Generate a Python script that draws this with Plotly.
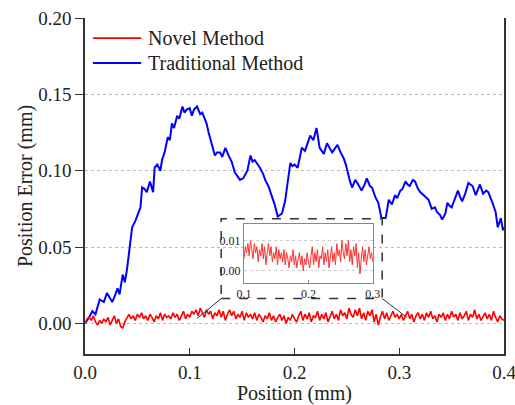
import plotly.graph_objects as go

# ---------------- data ----------------
blue_x = [0.000, 0.004, 0.007, 0.010, 0.014, 0.018, 0.021, 0.024, 0.026, 0.029,
          0.031, 0.033, 0.036, 0.038, 0.040, 0.042, 0.045, 0.048, 0.050, 0.053,
          0.0545, 0.057, 0.059, 0.062, 0.065, 0.0665, 0.069, 0.072, 0.0735, 0.076,
          0.079, 0.081, 0.083, 0.085, 0.088, 0.090, 0.093, 0.095, 0.097, 0.100,
          0.102, 0.104, 0.107, 0.110, 0.112, 0.116, 0.118, 0.121, 0.124, 0.126,
          0.129, 0.131, 0.134, 0.137, 0.140, 0.143, 0.145, 0.148, 0.151, 0.153,
          0.155, 0.158, 0.160, 0.162, 0.165, 0.167, 0.170, 0.172, 0.175, 0.177,
          0.179, 0.181, 0.184, 0.186, 0.188, 0.191, 0.193, 0.196, 0.198, 0.200,
          0.203, 0.207, 0.210, 0.212, 0.215, 0.218, 0.221, 0.224, 0.226, 0.228,
          0.231, 0.234, 0.236, 0.239, 0.241, 0.244, 0.247, 0.249, 0.251, 0.253,
          0.255, 0.258, 0.260, 0.262, 0.264, 0.267, 0.269, 0.272, 0.274, 0.277,
          0.280, 0.283, 0.287, 0.290, 0.293, 0.296, 0.298, 0.301, 0.303, 0.306,
          0.308, 0.310, 0.313, 0.315, 0.318, 0.320, 0.323, 0.325, 0.328, 0.331,
          0.334, 0.336, 0.339, 0.341, 0.344, 0.346, 0.348, 0.350, 0.353, 0.356,
          0.358, 0.360, 0.363, 0.366, 0.368, 0.370, 0.373, 0.375, 0.377, 0.380,
          0.383, 0.385, 0.387, 0.389, 0.392, 0.394, 0.397, 0.399, 0.400]
blue_y = [0.000, 0.004, 0.008, 0.006, 0.0157, 0.014, 0.020, 0.016, 0.014, 0.019,
          0.023, 0.019, 0.032, 0.027, 0.035, 0.046, 0.063, 0.067, 0.071, 0.076,
          0.089, 0.088, 0.086, 0.093, 0.086, 0.102, 0.104, 0.100, 0.107, 0.112,
          0.122, 0.120, 0.131, 0.128, 0.136, 0.134, 0.142, 0.138, 0.140, 0.141,
          0.136, 0.140, 0.142, 0.137, 0.138, 0.131, 0.125, 0.118, 0.110, 0.112,
          0.112, 0.109, 0.115, 0.110, 0.106, 0.099, 0.097, 0.094, 0.095, 0.098,
          0.100, 0.110, 0.106, 0.107, 0.104, 0.102, 0.098, 0.094, 0.090, 0.086,
          0.082, 0.078, 0.070, 0.071, 0.072, 0.080, 0.090, 0.105, 0.103, 0.104,
          0.102, 0.115, 0.113, 0.117, 0.123, 0.120, 0.128, 0.115, 0.113, 0.111,
          0.118, 0.114, 0.112, 0.115, 0.117, 0.112, 0.108, 0.104, 0.098, 0.093,
          0.089, 0.094, 0.092, 0.089, 0.087, 0.091, 0.095, 0.090, 0.089, 0.083,
          0.079, 0.069, 0.069, 0.081, 0.078, 0.084, 0.082, 0.087, 0.088, 0.093,
          0.091, 0.090, 0.094, 0.093, 0.088, 0.086, 0.084, 0.083, 0.081, 0.075,
          0.076, 0.073, 0.071, 0.068, 0.072, 0.079, 0.077, 0.076, 0.081, 0.087,
          0.083, 0.080, 0.085, 0.092, 0.091, 0.090, 0.084, 0.087, 0.091, 0.085,
          0.087, 0.086, 0.083, 0.079, 0.073, 0.063, 0.069, 0.061, 0.063]

red_x = [round(i * 0.002, 3) for i in range(201)]
red_y = [0.000, 0.003, 0.004, 0.002, 0.005, 0.001, -0.001, 0.002, 0.000, 0.003,
         0.001, 0.004, -0.001, 0.002, 0.005, 0.000, 0.003, -0.002, -0.003, 0.001,
         0.004, 0.006, 0.003, 0.005, 0.002, 0.006, 0.004, 0.007, 0.003, 0.005,
         0.002, 0.006, 0.004, 0.001, 0.005, 0.003, 0.007, 0.002, 0.006, 0.004,
         0.005, 0.003, 0.007, 0.004, 0.006, 0.002, 0.005, 0.008, 0.003, 0.006,
         0.004, 0.008, 0.006, 0.009, 0.005, 0.010, 0.007, 0.004, 0.009, 0.006,
         0.008, 0.003, 0.007, 0.005, 0.009, 0.004, 0.008, 0.002, 0.006, 0.009,
         0.005, 0.008, 0.003, 0.006, 0.004, 0.008, 0.002, 0.007, 0.004, 0.006,
         0.003, 0.007, 0.002, 0.006, 0.004, 0.001, 0.005, 0.003, 0.007, 0.002,
         0.005, 0.001, 0.004, 0.006, 0.002, 0.005, 0.000, 0.004, 0.002, 0.006,
         0.003, 0.001, 0.005, 0.008, 0.002, 0.006, 0.003, 0.007, 0.001, 0.005,
         0.004, 0.008, 0.002, 0.006, 0.003, 0.007, 0.001, 0.005, 0.008, 0.003,
         0.006, 0.002, 0.009, 0.005, 0.007, 0.003, 0.010, 0.006, 0.004, 0.009,
         0.005, 0.010, 0.003, 0.007, 0.002, 0.008, 0.005, 0.009, 0.001, 0.006,
         -0.001, 0.004, 0.008, 0.003, 0.007, 0.002, 0.005, 0.008, 0.004, 0.006,
         0.003, 0.006, 0.002, 0.005, 0.008, 0.003, 0.006, 0.001, 0.005, 0.007,
         0.003, 0.006, 0.002, 0.007, 0.004, 0.008, 0.003, 0.005, 0.001, 0.006,
         0.004, 0.007, 0.002, 0.006, 0.003, 0.008, 0.004, 0.006, 0.002, 0.007,
         0.003, 0.005, 0.008, 0.002, 0.006, 0.004, 0.009, 0.003, 0.006, 0.002,
         0.005, 0.007, 0.003, 0.006, 0.002, 0.008, 0.004, 0.001, 0.005, 0.003,
         0.002]

inset_lo, inset_hi = 0.1, 0.3
inset_x = [x for x in red_x if inset_lo <= x <= inset_hi]
inset_y = [y for x, y in zip(red_x, red_y) if inset_lo <= x <= inset_hi]

series_names = ["Novel Method", "Traditional Method"]

FONT = "Liberation Serif, Times New Roman, serif"
AX = "#333333"

fig = go.Figure()
fig.add_trace(go.Scatter(x=blue_x, y=blue_y, mode="lines", name=series_names[1],
                         line=dict(color="#0000FF", width=2), showlegend=False))
fig.add_trace(go.Scatter(x=red_x, y=red_y, mode="lines", name=series_names[0],
                         line=dict(color="#FF0000", width=1.6), showlegend=False))
fig.add_trace(go.Scatter(x=inset_x, y=inset_y, mode="lines", xaxis="x2", yaxis="y2",
                         line=dict(color="#FF3030", width=1), showlegend=False))

fig.update_layout(
    width=515, height=405,
    margin=dict(l=85, r=11, t=18, b=51, autoexpand=False),
    paper_bgcolor="white", plot_bgcolor="white",
    font=dict(family=FONT, size=19, color="#222222"),
    xaxis=dict(range=[0, 0.4], dtick=0.1, tick0=0, tickformat=".1f", automargin=False,
               ticklabeloverflow="allow",
               showline=True, linecolor=AX, linewidth=1.5, mirror=False,
               ticks="inside", ticklen=6, tickcolor=AX, tickwidth=1.2,
               showgrid=False, zeroline=False,
               title=dict(text="Position (mm)", font=dict(size=20), standoff=7)),
    yaxis=dict(range=[-0.02, 0.2], dtick=0.05, tick0=0, tickformat=".2f", automargin=False,
               showline=True, linecolor=AX, linewidth=1.5, mirror=True,
               ticks="outside", ticklen=8, tickcolor=AX, tickwidth=1.2,
               showgrid=True, gridcolor="#BBBBBB", griddash="dot", gridwidth=1,
               zeroline=False,
               title=dict(text="Position Error (mm)", font=dict(size=20), standoff=0)),
    xaxis2=dict(domain=[0.3795, 0.687], anchor="y2", range=[0.1, 0.3], dtick=0.1,
                automargin=False, ticklabeloverflow="allow",
                tickformat=".1f", showline=True, linecolor="#888888", linewidth=1,
                mirror=True, ticks="inside", ticklen=3, tickcolor="#888888",
                showgrid=False, zeroline=False, tickfont=dict(size=12)),
    yaxis2=dict(domain=[0.2113, 0.387], anchor="x2", range=[-0.004, 0.0155],
                automargin=False,
                tickvals=[0.0, 0.01], tickformat=".2f", showline=True,
                linecolor="#888888", linewidth=1, mirror=True, ticks="",
                showgrid=True, gridcolor="#CCCCCC", griddash="dot", gridwidth=1,
                zeroline=False, tickfont=dict(size=12)),
)

# zoom box and connectors
fig.add_shape(type="rect", xref="x", yref="y", x0=0.130, x1=0.2837, y0=0.0163, y1=0.0685,
              line=dict(color="#333333", width=1.5, dash="dash"))
fig.add_shape(type="line", xref="x", yref="y", x0=0.130, y0=0.0163, x1=0.107, y1=0.0033,
              line=dict(color="#333333", width=1))
fig.add_shape(type="line", xref="x", yref="y", x0=0.2837, y0=0.0163, x1=0.3075, y1=0.0039,
              line=dict(color="#333333", width=1))

# manual legend
legend_rows = [(series_names[0], "#FF0000", 0.940), (series_names[1], "#0000FF", 0.866)]
for name, col, yy in legend_rows:
    fig.add_shape(type="line", xref="paper", yref="paper", x0=0.019, x1=0.134, y0=yy, y1=yy,
                  line=dict(color=col, width=1.8))
    fig.add_annotation(xref="paper", yref="paper", x=0.1456, y=yy, text=name,
                       showarrow=False, xanchor="left", yanchor="middle",
                       font=dict(size=20, color="#222222"))

fig.write_html("out.html", config={"displayModeBar": False},
               post_script="document.body.style.margin='0';document.body.style.overflow='hidden';")
